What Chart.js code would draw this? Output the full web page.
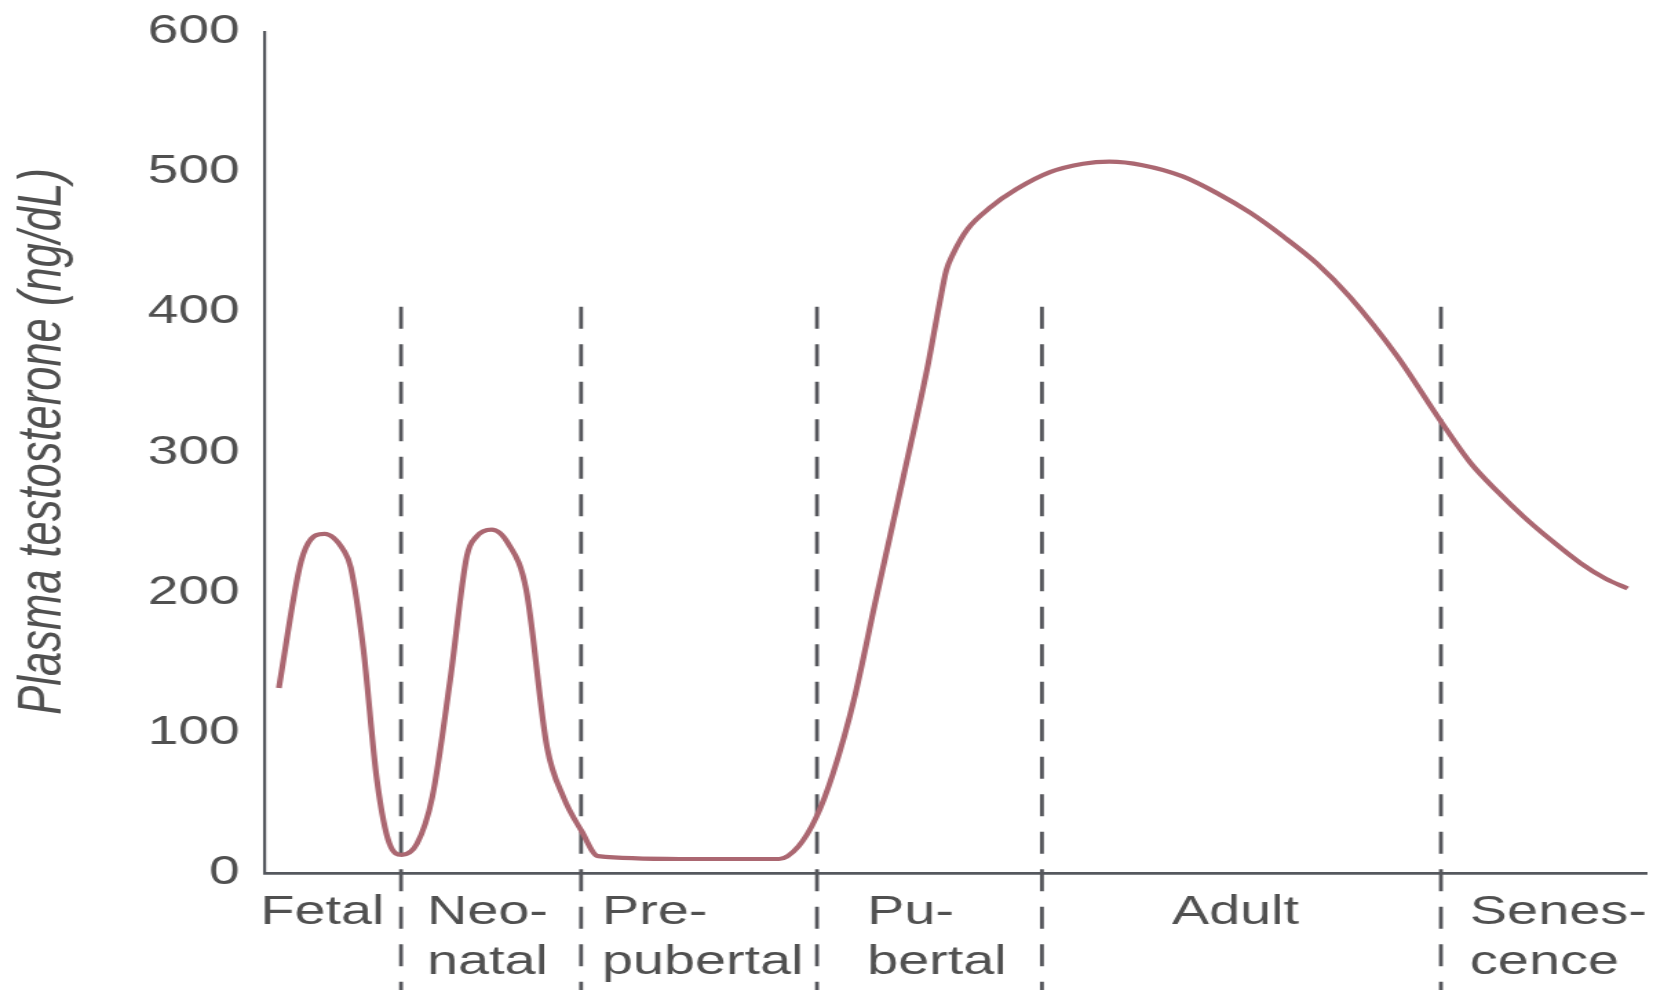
<!DOCTYPE html>
<html>
<head>
<meta charset="utf-8">
<title>Plasma testosterone across the male life span</title>
<script src="https://cdn.jsdelivr.net/npm/chart.js@4/dist/chart.umd.min.js"></script>
<style>
  html, body { margin: 0; padding: 0; background: #ffffff; overflow: hidden; }
  canvas { display: block; }
</style>
</head>
<body>
<!-- drawn on a narrower buffer and widened by CSS, giving the broad lettering -->
<canvas id="chart" width="1200" height="990" style="width:1653px;height:990px;"></canvas>
<script>
// Life stages along the horizontal axis (relative position 0-100)
const stageLabels = [["Fetal"], ["Neo-", "natal"], ["Pre-", "pubertal"], ["Pu-", "bertal"], ["Adult"], ["Senes-", "cence"]];
const stageLabelPositions = [0, 12.07, 24.73, 43.91, 65.98, 87.54];
const stageBoundaries = [9.84, 22.87, 39.94, 56.22, 85.09];
const dividerTopValue = 404;

// Vertical axis ticks (ng/dL)
const yTicks = [0, 100, 200, 300, 400, 500, 600];

// Plasma testosterone curve
const agePositions = [
  1.0, 2.5, 3.1, 4.3, 5.7, 6.2, 7.1, 8.1, 9.0, 9.9,
  11.0, 12.1, 13.4, 14.6, 15.3, 16.4, 17.6, 18.9, 20.4, 21.6,
  22.9, 24.1, 30.0, 37.2, 38.6, 39.9, 41.1, 42.6, 44.2, 46.2,
  47.9, 48.8, 49.3, 49.8, 50.8, 52.5, 54.4, 56.8, 59.2, 61.1,
  63.5, 66.4, 68.9, 71.3, 73.7, 76.1, 78.5, 81.9, 85.1, 87.2,
  89.2, 91.1, 93.0, 95.2, 97.0, 98.6];
const testosterone = [
  132, 218, 235, 242, 230, 218, 161, 66, 21, 13,
  21, 54, 138, 226, 240, 245, 235, 202, 90, 54,
  30, 12, 10, 10, 19, 40, 71, 123, 195, 283,
  359, 406, 430, 442, 459, 475, 488, 500, 506, 507.5,
  505, 497, 485, 471, 454, 435, 411, 369, 322, 293,
  272, 254, 238, 221, 210, 203];

const yTitle = "Plasma testosterone (ng/dL)";

const FONT = "'Liberation Sans', Arial, Helvetica, sans-serif";
const TEXT = '#505050';
const AXIS = '#55585e';

// dashed separators between life stages
const stageDividers = {
  id: 'stageDividers',
  beforeDatasetsDraw(chart) {
    const { ctx, scales: { x, y } } = chart;
    const top = y.getPixelForValue(dividerTopValue);
    ctx.save();
    ctx.strokeStyle = '#56575c';
    ctx.lineWidth = 2.8;
    ctx.setLineDash([22, 15.5]);
    stageBoundaries.forEach(b => {
      const px = x.getPixelForValue(b);
      ctx.beginPath();
      ctx.moveTo(px, top);
      ctx.lineTo(px, chart.height);
      ctx.stroke();
    });
    ctx.restore();
  }
};

// rotated italic title for the vertical axis
const verticalTitle = {
  id: 'verticalTitle',
  afterDraw(chart) {
    const { ctx, chartArea } = chart;
    ctx.save();
    ctx.translate(43.5, (chartArea.top + chartArea.bottom) / 2 - 11);
    ctx.rotate(-Math.PI / 2);
    ctx.font = 'italic 43.5px ' + FONT;
    ctx.fillStyle = TEXT;
    ctx.textAlign = 'center';
    ctx.textBaseline = 'alphabetic';
    ctx.fillText(yTitle, 0, 0);
    ctx.restore();
  }
};

new Chart(document.getElementById('chart'), {
  type: 'line',
  data: {
    datasets: [{
      data: agePositions.map((x, i) => ({ x, y: testosterone[i] })),
      borderColor: '#ab6771',
      borderWidth: 4.2,
      pointRadius: 0,
      fill: false,
      cubicInterpolationMode: 'monotone'
    }]
  },
  options: {
    responsive: false,
    devicePixelRatio: 1,
    animation: false,
    layout: { padding: { top: 32, right: 4.4, bottom: 0, left: 0 } },
    plugins: { legend: { display: false }, tooltip: { enabled: false } },
    scales: {
      x: {
        type: 'linear',
        min: 0,
        max: 100,
        grid: { display: false, drawTicks: false },
        border: { display: true, color: AXIS, width: 2.8 },
        afterBuildTicks(scale) {
          scale.ticks = stageLabelPositions.map(v => ({ value: v }));
        },
        afterFit(scale) {
          scale.height = 117;
          scale.paddingLeft = 0;
          scale.paddingRight = 0;
        },
        ticks: {
          autoSkip: false,
          maxRotation: 0,
          minRotation: 0,
          align: 'start',
          padding: 15,
          labelOffset: -3.5,
          color: TEXT,
          font: { family: FONT, size: 40.5, lineHeight: 50 / 40.5 },
          callback: (value, index) => stageLabels[index]
        }
      },
      y: {
        type: 'linear',
        min: 0,
        max: 600,
        grid: { display: false, drawTicks: false },
        border: { display: true, color: AXIS, width: 2.2 },
        afterBuildTicks(scale) {
          scale.ticks = yTicks.map(v => ({ value: v }));
        },
        afterFit(scale) {
          scale.width = 192.4;
          scale.paddingTop = 0;
          scale.paddingBottom = 0;
        },
        ticks: {
          padding: 18.4,
          color: TEXT,
          font: { family: FONT, size: 40 },
          callback: v => String(v)
        }
      }
    }
  },
  plugins: [stageDividers, verticalTitle]
});
</script>
</body>
</html>
